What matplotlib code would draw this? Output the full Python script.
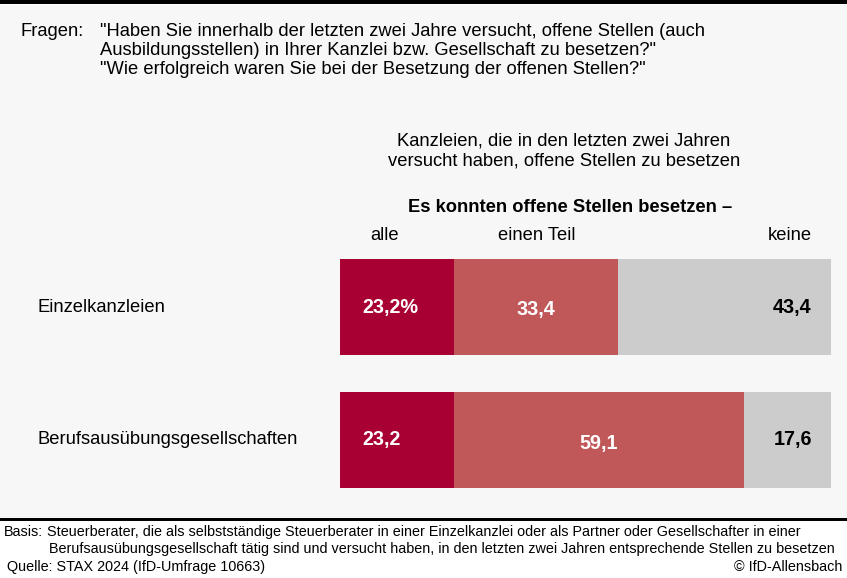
import matplotlib.pyplot as plt
from matplotlib.patches import Rectangle
from matplotlib import transforms

plt.rcParams['font.family'] = ['Liberation Sans', 'DejaVu Sans']

# data
categories = ['Einzelkanzleien', 'Berufsausübungsgesellschaften']
alle = [23.2, 23.2]
einen_teil = [33.4, 59.1]
keine = [43.4, 17.6]
segment_names = ['alle', 'einen Teil', 'keine']
colors = ['#a80032', '#c0585a', '#cccccc']

W, H = 847, 578
FS = 13.2    # main text size
FS_BAR = 14.2
FS_FOOT = 10.4

fig = plt.figure(figsize=(W / 100, H / 100), dpi=100)
fig.patch.set_facecolor('white')


def fx(px):
    return px / W


def fy(py):
    # pixel from top -> figure fraction
    return 1 - py / H


# background panel and rules
fig.patches.append(Rectangle((0, fy(518)), 1, fy(5) - fy(518), transform=fig.transFigure,
                             facecolor='#f7f7f7', edgecolor='none', zorder=-1))
fig.patches.append(Rectangle((0, fy(4)), 1, fy(0) - fy(4), transform=fig.transFigure,
                             facecolor='black', edgecolor='none', zorder=1))
fig.patches.append(Rectangle((0, fy(521)), 1, fy(518) - fy(521), transform=fig.transFigure,
                             facecolor='black', edgecolor='none', zorder=1))

# question text
fig.text(fx(20), fy(31), 'Fragen:', fontsize=FS, va='center')
q_lines = ['"Haben Sie innerhalb der letzten zwei Jahre versucht, offene Stellen (auch',
           'Ausbildungsstellen) in Ihrer Kanzlei bzw. Gesellschaft zu besetzen?"',
           '"Wie erfolgreich waren Sie bei der Besetzung der offenen Stellen?"']
for i, line in enumerate(q_lines):
    fig.text(fx(100), fy(31 + i * 19.5), line, fontsize=FS, va='center')

# header above bars
fig.text(fx(564), fy(141), 'Kanzleien, die in den letzten zwei Jahren', fontsize=FS,
         ha='center', va='center')
fig.text(fx(564), fy(161), 'versucht haben, offene Stellen zu besetzen', fontsize=FS,
         ha='center', va='center')
fig.text(fx(570), fy(208), 'Es konnten offene Stellen besetzen –', fontsize=FS,
         fontweight='bold', ha='center', va='center')

# bars
ax = fig.add_axes([fx(340), fy(488), fx(831) - fx(340), fy(259) - fy(488)])
ax.set_facecolor('none')
ypos = [0, 1]
h = 96 / 133
left = [0, 0]
series = [alle, einen_teil, keine]
for k, vals in enumerate(series):
    ax.barh(ypos, vals, left=left, height=h, color=colors[k], edgecolor='none')
    for i, v in enumerate(vals):
        txt = f'{v:.1f}'.replace('.', ',')
        if k == 0 and i == 0:
            txt += '%'
        if k == 0:
            ax.text(left[i] + 4.6, ypos[i], txt, color='white', fontsize=FS_BAR,
                    fontweight='bold', ha='left', va='center')
        elif k == 1:
            off = transforms.ScaledTranslation(0, -3 / 100, fig.dpi_scale_trans)
            ax.text(left[i] + v / 2, ypos[i], txt, color='white', fontsize=FS_BAR,
                    fontweight='bold', ha='center', va='center',
                    transform=ax.transData + off)
        else:
            ax.text(100 - 3.9, ypos[i], txt, color='black', fontsize=FS_BAR,
                    fontweight='bold', ha='right', va='center')
    left = [l + v for l, v in zip(left, vals)]

ax.set_xlim(0, 100)
ax.set_ylim(1 + h / 2, -h / 2)
ax.axis('off')

# segment headings
fig.text(fx(385), fy(236), segment_names[0], fontsize=FS, ha='center', va='center')
fig.text(fx(537), fy(236), segment_names[1], fontsize=FS, ha='center', va='center')
fig.text(fx(812), fy(236), segment_names[2], fontsize=FS, ha='right', va='center')

# category labels
for i, cat in enumerate(categories):
    fig.text(fx(37), fy(307 + i * 133), cat, fontsize=FS, ha='left', va='center')

# footer
fig.text(fx(4), fy(532), 'Basis:', fontsize=FS_FOOT, va='center')
fig.text(fx(47), fy(532), 'Steuerberater, die als selbstständige Steuerberater in einer '
         'Einzelkanzlei oder als Partner oder Gesellschafter in einer', fontsize=FS_FOOT,
         va='center')
fig.text(fx(49), fy(549), 'Berufsausübungsgesellschaft tätig sind und versucht haben, in den '
         'letzten zwei Jahren entsprechende Stellen zu besetzen', fontsize=FS_FOOT, va='center')
fig.text(fx(7), fy(567), 'Quelle: STAX 2024 (IfD-Umfrage 10663)', fontsize=FS_FOOT, va='center')
fig.text(fx(842), fy(567), '© IfD-Allensbach', fontsize=FS_FOOT, ha='right', va='center')

fig.savefig('out.png', dpi=100, facecolor=fig.get_facecolor())
